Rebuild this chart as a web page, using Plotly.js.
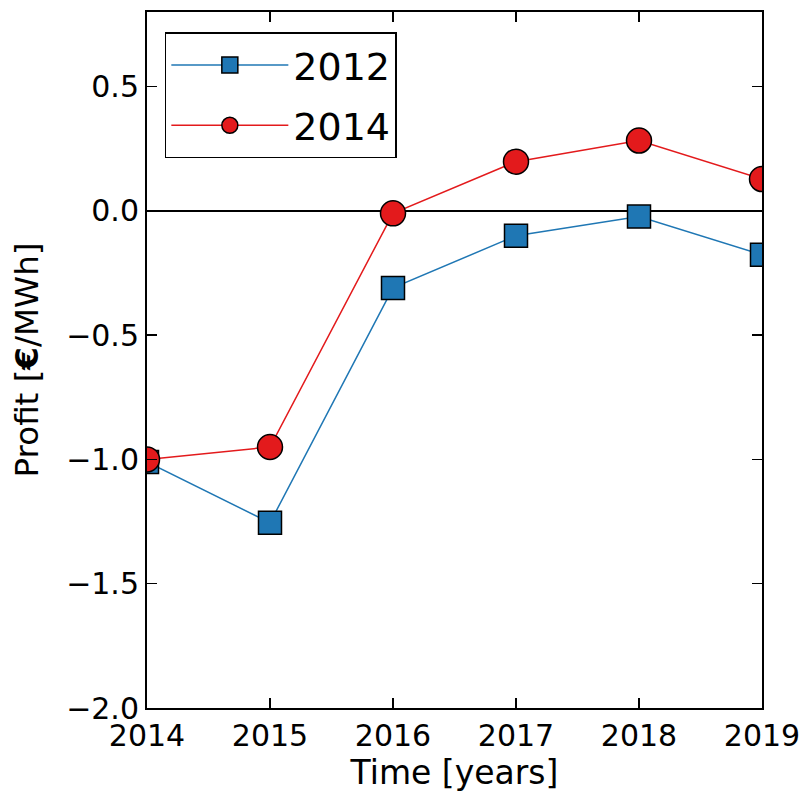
<!DOCTYPE html>
<html>
<head>
<meta charset="utf-8">
<script src="https://cdn.plot.ly/plotly-3.0.1.min.js"></script>
<style>html,body{margin:0;padding:0;background:#fff;}#chart{width:808px;height:795px;}</style>
</head>
<body>
<div id="chart"></div>
<script>
const years = [2014, 2015, 2016, 2017, 2018, 2019];
const profit2012 = [-1.01, -1.255, -0.31, -0.10, -0.023, -0.177];
const profit2014 = [-1.0, -0.95, -0.01, 0.198, 0.283, 0.128];
const seriesNames = ['2012', '2014'];
const xTickVals = [2014, 2015, 2016, 2017, 2018, 2019];
const yTickVals = [-2.0, -1.5, -1.0, -0.5, 0.0, 0.5];
const yTickText = ['\u22122.0', '\u22121.5', '\u22121.0', '\u22120.5', '0.0', '0.5'];

const FONT = 'DejaVu Sans, sans-serif';

const traces = [
  {
    x: years, y: profit2012, name: seriesNames[0], mode: 'lines+markers',
    legendgroup: 'a',
    line: {color: '#1f77b4', width: 1.5},
    marker: {symbol: 'square', size: 23, color: '#1f77b4', line: {color: '#000', width: 1.5}}
  },
  {
    x: years, y: profit2014, name: seriesNames[1], mode: 'lines+markers',
    legendgroup: 'b',
    line: {color: '#e31a1c', width: 1.5},
    marker: {symbol: 'circle', size: 25, color: '#e31a1c', line: {color: '#000', width: 1.5}}
  }
];

const axisCommon = {
  showline: true, linecolor: '#000', linewidth: 2, mirror: 'ticks',
  ticks: 'inside', ticklen: 10, tickwidth: 1.5, tickcolor: '#000',
  showgrid: false,
  tickfont: {family: FONT, size: 30, color: '#000'}
};

const layout = {
  width: 808, height: 795,
  margin: {l: 147, r: 46, t: 12, b: 87},
  paper_bgcolor: '#fff', plot_bgcolor: '#fff',
  font: {family: FONT, color: '#000'},
  showlegend: true,
  xaxis: Object.assign({}, axisCommon, {
    range: [2014, 2019], tickvals: xTickVals, ticktext: xTickVals.map(String),
    zeroline: false,
    title: {text: 'Time [years]', font: {family: FONT, size: 33, color: '#000'}, standoff: 9}
  }),
  yaxis: Object.assign({}, axisCommon, {
    range: [-2, 0.8], tickvals: yTickVals, ticktext: yTickText,
    zeroline: true, zerolinecolor: '#000', zerolinewidth: 2,
    title: {text: 'Profit [<b>\u20ac</b>/MWh]', font: {family: FONT, size: 32.5, color: '#000'}, standoff: 18}
  }),
  legend: {
    x: 0.029, y: 0.971, xanchor: 'left', yanchor: 'top',
    bgcolor: '#fff', bordercolor: '#000', borderwidth: 1.5,
    font: {family: FONT, size: 38, color: '#000'},
    itemwidth: 117, itemsizing: 'trace',
    traceorder: 'grouped', tracegroupgap: 8
  }
};

Plotly.newPlot('chart', traces, layout, {displayModeBar: false, staticPlot: true});
</script>
</body>
</html>
